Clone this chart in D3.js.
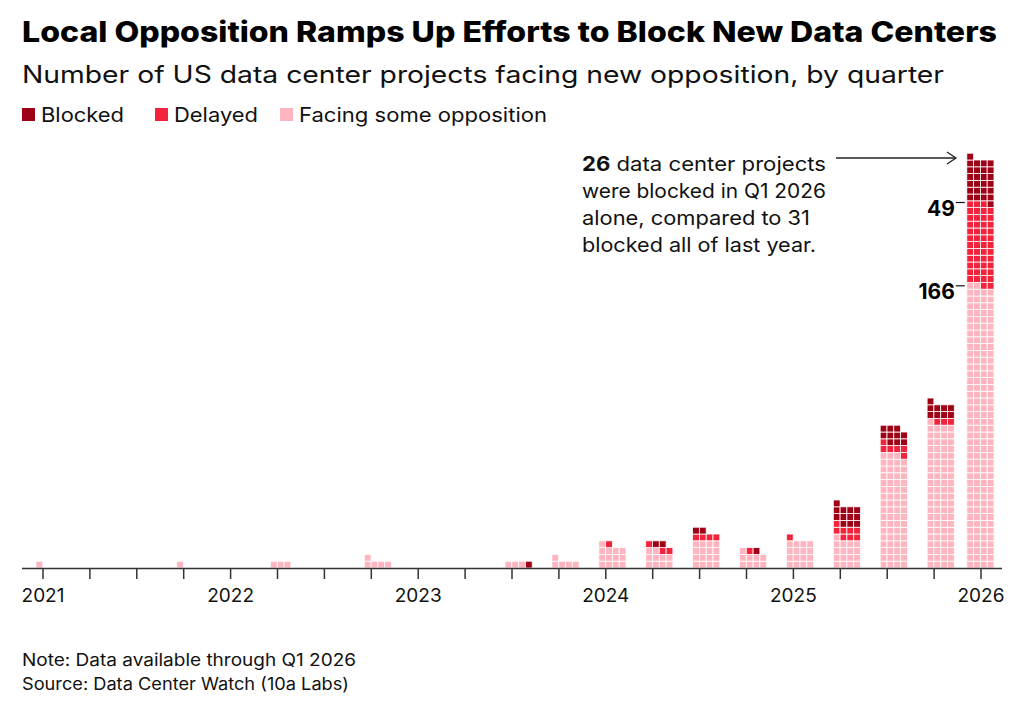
<!DOCTYPE html>
<html><head><meta charset="utf-8">
<script src="https://cdn.jsdelivr.net/npm/d3@7"></script>
<style>body{margin:0;background:#fff;font-family:Inter,"Noto Sans",sans-serif}</style>
</head><body><svg id="c" width="1024" height="703"></svg>
<script>
const quarters = ["Q1 2021","Q2 2021","Q3 2021","Q4 2021","Q1 2022","Q2 2022","Q3 2022","Q4 2022","Q1 2023","Q2 2023","Q3 2023","Q4 2023","Q1 2024","Q2 2024","Q3 2024","Q4 2024","Q1 2025","Q2 2025","Q3 2025","Q4 2025","Q1 2026"];
const facing  = [1,0,0,1,0,3,0,5,0,0,3,5,13,10,16,9,16,17,67,85,166];
const delayed = [0,0,0,0,0,0,0,0,0,0,0,0,1,3,4,1,1,8,6,3,49];
const blocked = [0,0,0,0,0,0,0,0,0,0,1,0,0,2,2,1,0,12,10,9,26];
const yearLabels = ["2021","2022","2023","2024","2025","2026"];
const seriesNames = ["Blocked","Delayed","Facing some opposition"];
const colors = {"Facing some opposition":"#ffb5c0","Delayed":"#f2233b","Blocked":"#9e0016"};

const svg = d3.select("#c");
const cols = 4, cell = 6.8;
const x = d3.scaleLinear().domain([0, quarters.length-1]).range([43, 981]);
const y = d3.scaleLinear().domain([0, 1]).range([568, 568-cell]);
const baseY = 568;
function fit(sel, w){ sel.attr("textLength", w).attr("lengthAdjust","spacingAndGlyphs"); return sel; }

fit(svg.append("text").attr("x",22).attr("y",42).attr("font-size",28).attr("font-weight",800).attr("fill","#000").text("Local Opposition Ramps Up Efforts to Block New Data Centers"), 975);
fit(svg.append("text").attr("x",22).attr("y",83).attr("font-size",24).attr("fill","#111").text("Number of US data center projects facing new opposition, by quarter"), 922);
const legX = [22, 155, 280], legW = [83, 84, 248];
seriesNames.forEach((n,k)=>{
  svg.append("rect").attr("x",legX[k]).attr("y",108).attr("width",13).attr("height",13).attr("fill",colors[n]);
  fit(svg.append("text").attr("x",legX[k]+19).attr("y",122).attr("font-size",20).attr("fill","#111").text(n), legW[k]);
});

quarters.forEach((q,i)=>{
  const arr = [];
  for(let k=0;k<facing[i];k++) arr.push("Facing some opposition");
  for(let k=0;k<delayed[i];k++) arr.push("Delayed");
  for(let k=0;k<blocked[i];k++) arr.push("Blocked");
  const left = Math.min(x(i)-7, 994 - cols*cell);
  svg.append("g").selectAll("rect").data(arr).join("rect")
    .attr("x",(d,k)=>left + (k%cols)*cell)
    .attr("y",(d,k)=>y(Math.floor(k/cols)+1))
    .attr("width",cell).attr("height",cell)
    .attr("fill",d=>colors[d]).attr("stroke","#fff").attr("stroke-width",0.8);
});

svg.append("line").attr("x1",22).attr("x2",1002).attr("y1",baseY+0.5).attr("y2",baseY+0.5).attr("stroke","#333").attr("stroke-width",1.5);
quarters.forEach((q,i)=>{
  svg.append("line").attr("x1",x(i)).attr("x2",x(i)).attr("y1",baseY).attr("y2",baseY+11).attr("stroke","#333").attr("stroke-width",1.5);
});
yearLabels.forEach((yl,j)=>{
  svg.append("text").attr("x",x(j*4)).attr("y",602).attr("text-anchor","middle").attr("font-size",19).attr("fill","#111").text(yl);
});

const li = quarters.length-1;
const lastLeft = Math.min(x(li)-7, 994 - cols*cell);
[[facing[li],facing[li]],[delayed[li],facing[li]+delayed[li]]].forEach(([val,cum])=>{
  const yy = y(cum/cols);
  svg.append("line").attr("x1",lastLeft-11).attr("x2",lastLeft-2).attr("y1",yy).attr("y2",yy).attr("stroke","#111").attr("stroke-width",1.2);
  svg.append("text").attr("x",lastLeft-12).attr("y",yy+13).attr("text-anchor","end").attr("font-size",21).attr("font-weight",700).attr("fill","#000").text(val);
});

const annLines = ["were blocked in Q1 2026","alone, compared to 31","blocked all of last year."];
const annW = [244, 228, 234];
const l1 = svg.append("text").attr("x",582).attr("y",171).attr("font-size",20).attr("fill","#111");
l1.append("tspan").attr("font-weight",700).text(blocked[li]);
l1.append("tspan").text(" data center projects");
fit(l1, 244);
annLines.forEach((s,k)=>{
  fit(svg.append("text").attr("x",582).attr("y",198+27*k).attr("font-size",20).attr("fill","#111").text(s), annW[k]);
});
svg.append("line").attr("x1",836).attr("x2",955).attr("y1",158).attr("y2",158).attr("stroke","#222").attr("stroke-width",1.3);
svg.append("path").attr("d","M947,152 L956,158 L947,164").attr("fill","none").attr("stroke","#222").attr("stroke-width",1.3);

fit(svg.append("text").attr("x",22).attr("y",666).attr("font-size",17).attr("fill","#111").text("Note: Data available through Q1 2026"), 334);
fit(svg.append("text").attr("x",22).attr("y",690).attr("font-size",17).attr("fill","#111").text("Source: Data Center Watch (10a Labs)"), 327);
</script></body></html>
